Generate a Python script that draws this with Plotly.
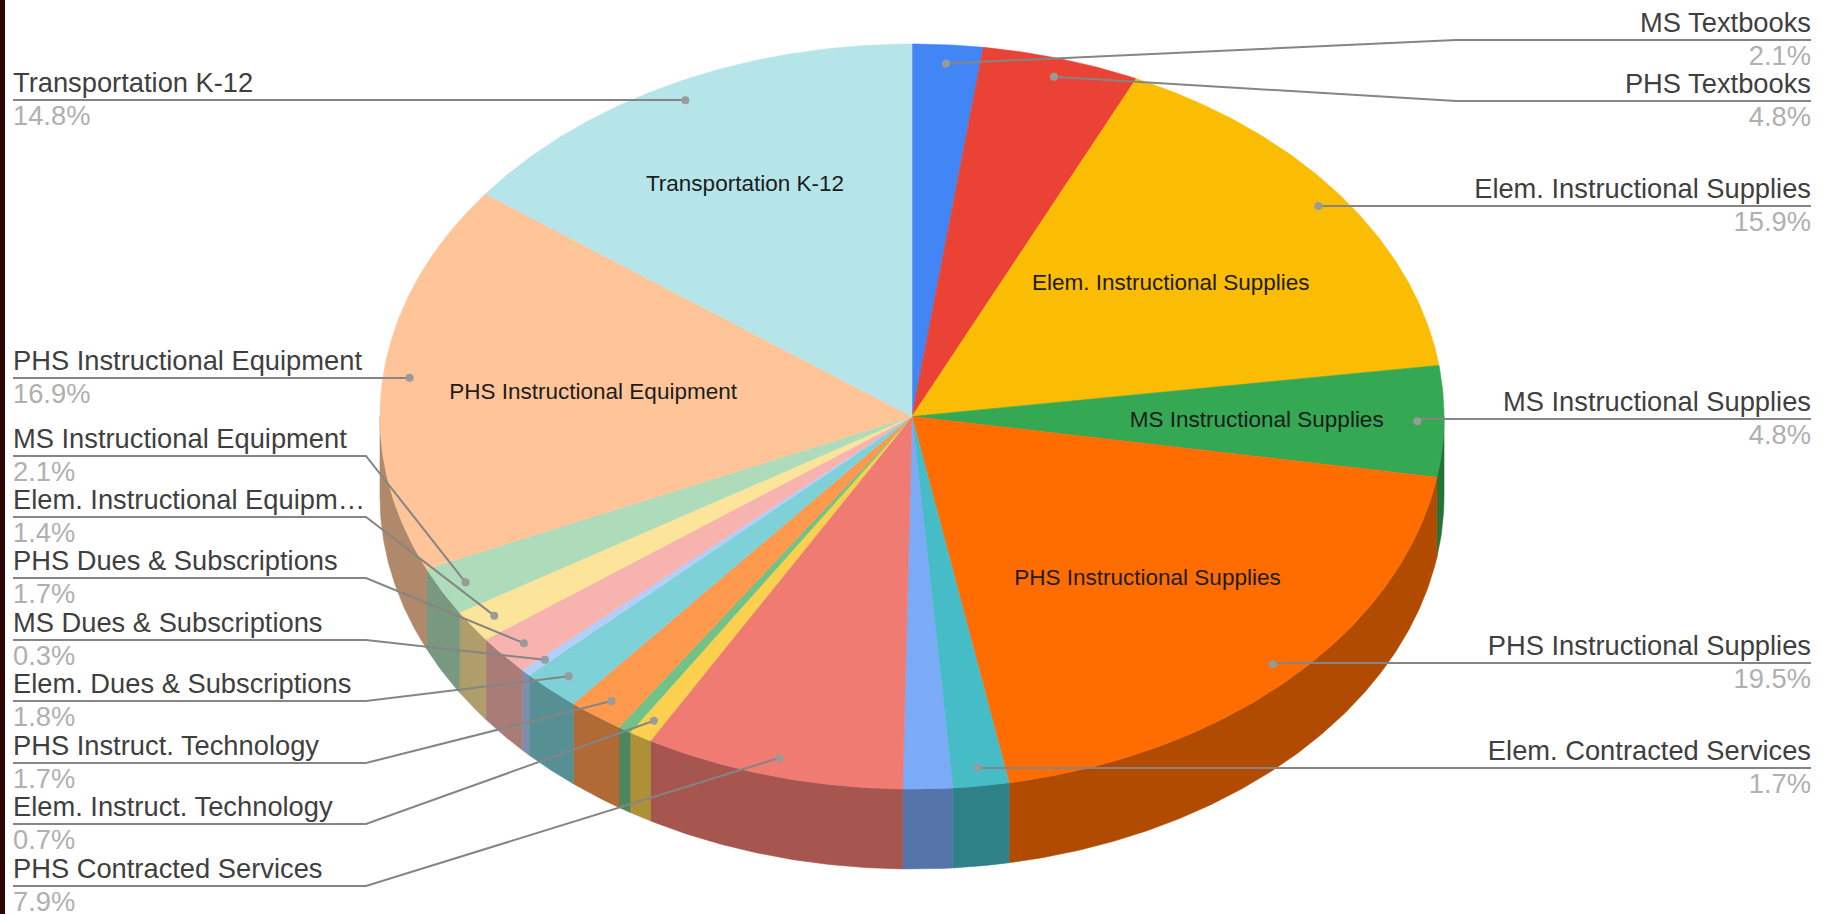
import math
import plotly.graph_objects as go

# ---- data (clockwise from 12 o'clock) ----
categories = ["MS Textbooks", "PHS Textbooks", "Elem. Instructional Supplies", "MS Instructional Supplies",
              "PHS Instructional Supplies", "Elem. Contracted Services", "MS Contracted Services",
              "PHS Contracted Services", "Elem. Instruct. Technology", "MS Instruct. Technology",
              "PHS Instruct. Technology", "Elem. Dues & Subscriptions", "MS Dues & Subscriptions",
              "PHS Dues & Subscriptions", "Elem. Instructional Equipment", "MS Instructional Equipment",
              "PHS Instructional Equipment", "Transportation K-12"]
values = [2.14, 4.78, 15.88, 4.8, 19.46, 1.7, 1.5, 7.9, 0.7, 0.4, 1.7, 1.8, 0.3, 1.7, 1.4, 2.1, 16.9, 14.8]
colors = ["#4285f4", "#ea4335", "#fbbc04", "#34a853", "#ff6d01", "#46bdc6", "#7baaf7", "#f07b72", "#fcd04f",
          "#71c287", "#ff994d", "#7ed1d7", "#b3cefb", "#f7b4ae", "#fde49b", "#aedcba", "#ffc599", "#b5e5e8"]

right_labels = {"MS Textbooks": 40, "PHS Textbooks": 101, "Elem. Instructional Supplies": 206,
                "MS Instructional Supplies": 419, "PHS Instructional Supplies": 663,
                "Elem. Contracted Services": 768}
left_labels = {"Transportation K-12": 100, "PHS Instructional Equipment": 378, "MS Instructional Equipment": 456,
               "Elem. Instructional Equipment": 517, "PHS Dues & Subscriptions": 578,
               "MS Dues & Subscriptions": 640, "Elem. Dues & Subscriptions": 701,
               "PHS Instruct. Technology": 763, "Elem. Instruct. Technology": 824,
               "PHS Contracted Services": 886}
short_names = {"Elem. Instructional Equipment": "Elem. Instructional Equipm\u2026"}
inner_labels = {"Transportation K-12": 0.70, "PHS Instructional Equipment": 0.603,
                "Elem. Instructional Supplies": 0.605, "MS Instructional Supplies": 0.648,
                "PHS Instructional Supplies": 0.62}

# ---- geometry of the drawing ----
W, H = 1830, 914
CX, CY, RX, RY, DEPTH = 912, 416.5, 532, 372.5, 80
LEFT_X, RIGHT_X, LEFT_ELBOW, RIGHT_ELBOW = 13, 1811, 366, 1456
DOT_FRAC = 0.95
SIDE_SHADE = 0.69
LABEL_SIZE, INNER_SIZE = 27.3, 22.5
INNER_DY = 1.5
TEXT_COL, PCT_COL, LINE_COL, DOT_COL = "#3f3f3f", "#b0b0b0", "#858585", "#9a9a9a"
FONT = "Liberation Sans"


def pt(deg, frac=1.0, dz=0.0):
    a = math.radians(deg)
    return CX + RX * frac * math.sin(a), CY - RY * frac * math.cos(a) + dz


def arc(a0, a1, dz=0.0):
    n = max(2, int(abs(a1 - a0) * 2) + 1)
    return [pt(a0 + (a1 - a0) * i / (n - 1), 1.0, dz) for i in range(n)]


def shade(hex_col, f):
    r, g, b = (int(hex_col[i:i + 2], 16) for i in (1, 3, 5))
    return f"rgb({round(r * f)},{round(g * f)},{round(b * f)})"


total = sum(values)
slices, acc = [], 0.0
for name, v, c in zip(categories, values, colors):
    a0 = acc / total * 360
    acc += v
    slices.append((name, v, c, a0, acc / total * 360))

fig = go.Figure()


def poly(pts, col, name):
    fig.add_trace(go.Scatter(x=[p[0] for p in pts] + [pts[0][0]], y=[p[1] for p in pts] + [pts[0][1]],
                             mode="lines", fill="toself", fillcolor=col, line=dict(color=col, width=0.6),
                             name=name, hoverinfo="name", showlegend=False))


for name, v, c, a0, a1 in slices:
    s0, s1 = max(a0, 90), min(a1, 270)
    if s1 > s0:
        poly(arc(s0, s1) + arc(s1, s0, DEPTH), shade(c, SIDE_SHADE), name)
for name, v, c, a0, a1 in slices:
    poly([(CX, CY)] + arc(a0, a1), c, name)


def line(xs, ys):
    fig.add_trace(go.Scatter(x=xs, y=ys, mode="lines", line=dict(color=LINE_COL, width=2),
                             hoverinfo="skip", showlegend=False))


def text(x, y, s, pos, col, size=LABEL_SIZE, family=FONT):
    fig.add_trace(go.Scatter(x=[x], y=[y], mode="text", text=[s], textposition=pos,
                             textfont=dict(color=col, size=size, family=family),
                             hoverinfo="skip", showlegend=False))


dots_x, dots_y = [], []
for name, v, c, a0, a1 in slices:
    mid = (a0 + a1) / 2
    dx, dy = pt(mid, DOT_FRAC)
    if name in right_labels:
        y = right_labels[name]
        if abs(dy - y) < 4:
            line([dx, RIGHT_X], [y, y])
        else:
            line([dx, RIGHT_ELBOW, RIGHT_X], [dy, y, y])
        text(RIGHT_X, y - 1, short_names.get(name, name), "top left", TEXT_COL)
        text(RIGHT_X, y + 5, f"{v:.1f}%", "bottom left", PCT_COL)
    elif name in left_labels:
        y = left_labels[name]
        if abs(dy - y) < 4:
            line([LEFT_X, dx], [y, y])
        else:
            line([LEFT_X, LEFT_ELBOW, dx], [y, y, dy])
        text(LEFT_X, y - 1, short_names.get(name, name), "top right", TEXT_COL)
        text(LEFT_X, y + 5, f"{v:.1f}%", "bottom right", PCT_COL)
    else:
        continue
    dots_x.append(dx)
    dots_y.append(dy)

fig.add_trace(go.Scatter(x=dots_x, y=dots_y, mode="markers", marker=dict(color=DOT_COL, size=8),
                         hoverinfo="skip", showlegend=False))

for name, v, c, a0, a1 in slices:
    if name in inner_labels:
        x, y = pt((a0 + a1) / 2, inner_labels[name])
        text(x, y + INNER_DY, name, "middle center", "#1c1c1c", INNER_SIZE)

fig.update_layout(
    width=W, height=H, margin=dict(l=0, r=0, t=0, b=0),
    paper_bgcolor="white", plot_bgcolor="white", showlegend=False,
    xaxis=dict(range=[0, W], visible=False, fixedrange=True),
    yaxis=dict(range=[H, 0], visible=False, fixedrange=True),
    shapes=[dict(type="rect", xref="x", yref="y", x0=0, x1=5, y0=0, y1=H,
                 fillcolor="#2e0505", line=dict(width=0), layer="above")],
)
fig.write_html("out.html", config=dict(displayModeBar=False),
               post_script="document.body.style.margin='0';document.body.style.overflow='hidden';")
